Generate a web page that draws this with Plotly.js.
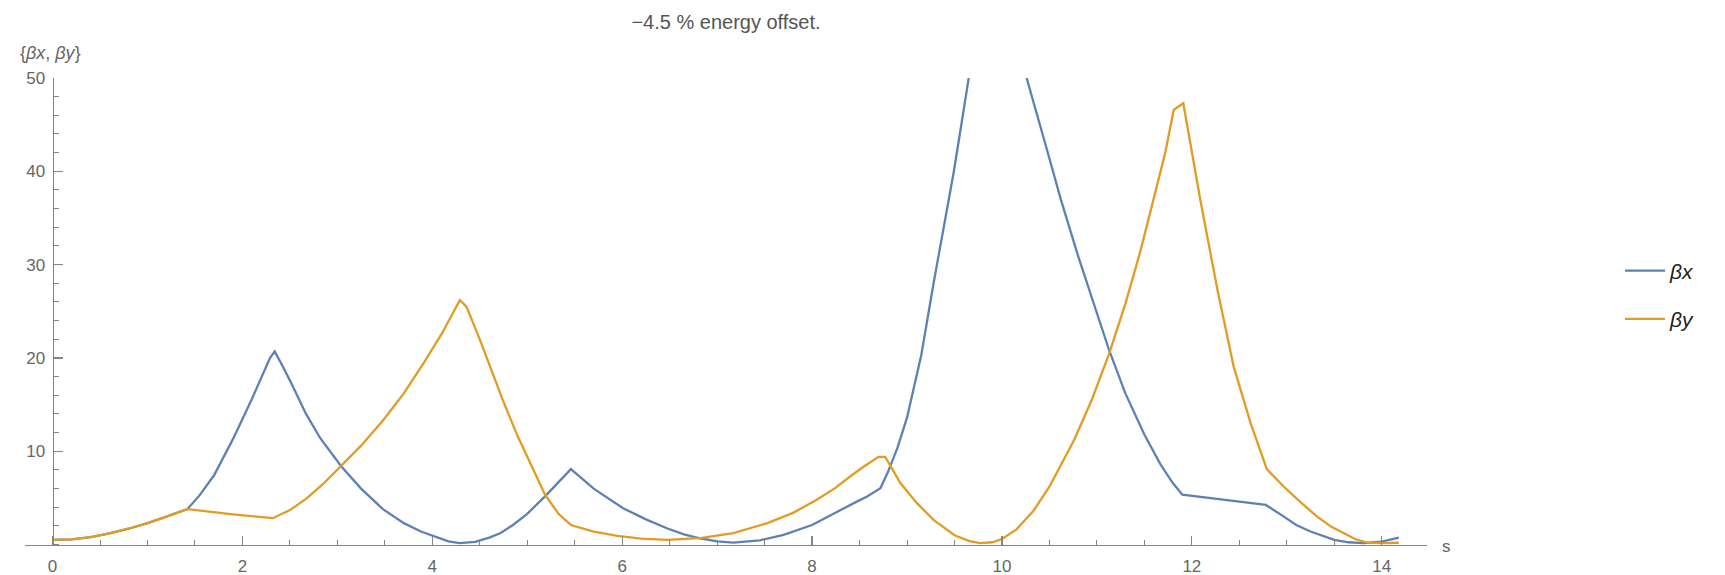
<!DOCTYPE html>
<html>
<head>
<meta charset="utf-8">
<script src="https://cdn.plot.ly/plotly-3.0.1.min.js"></script>
<style>
  html, body { margin: 0; padding: 0; background: #ffffff; }
  #chart { width: 1725px; height: 575px; }
</style>
</head>
<body>
<div id="chart"></div>
<script>
// Beta functions along the line, -4.5 % energy offset
const sBx = [0, 0.2, 0.4, 0.6, 0.8, 1.0, 1.2, 1.42, 1.55, 1.7, 1.9, 2.1, 2.29, 2.34, 2.42, 2.5,
  2.67, 2.82, 3.04, 3.25, 3.48, 3.7, 3.88, 4.05, 4.17, 4.29, 4.45, 4.6, 4.72, 4.85, 5.0, 5.19,
  5.33, 5.46, 5.7, 6.01, 6.25, 6.47, 6.65, 6.82, 7.0, 7.17, 7.45, 7.7, 8.0, 8.23, 8.45, 8.58,
  8.72, 8.8, 8.9, 9.0, 9.15, 9.28, 9.4, 9.49, 9.58, 9.65, 9.75, 9.85, 9.95, 10.05, 10.15, 10.26,
  10.45, 10.62, 10.8, 11.0, 11.13, 11.3, 11.5, 11.67, 11.8, 11.9, 12.3, 12.62, 12.78, 12.97,
  13.1, 13.25, 13.5, 13.65, 13.81, 14.0, 14.18];
const betaX = [0.5, 0.55, 0.8, 1.2, 1.7, 2.3, 3.0, 3.8, 5.3, 7.4, 11.3, 15.6, 20.0, 20.7, 19.2, 17.6,
  14.0, 11.4, 8.4, 6.0, 3.8, 2.3, 1.4, 0.75, 0.35, 0.15, 0.3, 0.75, 1.25, 2.1, 3.3, 5.2,
  6.7, 8.08, 6.0, 3.9, 2.7, 1.75, 1.1, 0.68, 0.35, 0.22, 0.45, 1.04, 2.1, 3.36, 4.5, 5.15,
  6.04, 7.8, 10.4, 13.6, 20.3, 28.0, 34.5, 39.8, 45.5, 50, 55, 59, 60.5, 59.5, 55.5, 50,
  43.2, 37, 31, 24.8, 20.8, 16.2, 11.8, 8.6, 6.6, 5.35, 4.85, 4.47, 4.25, 3.0,
  2.1, 1.4, 0.5, 0.25, 0.15, 0.32, 0.75];

const sBy = [0, 0.2, 0.4, 0.6, 0.8, 1.0, 1.2, 1.42, 1.9, 2.32, 2.5, 2.67, 2.85, 3.04, 3.25, 3.48,
  3.7, 3.9, 4.1, 4.29, 4.36, 4.5, 4.61, 4.75, 4.9, 5.05, 5.19, 5.33, 5.46, 5.7, 5.95, 6.2,
  6.47, 6.82, 7.17, 7.53, 7.8, 8.05, 8.25, 8.4, 8.55, 8.7, 8.77, 8.85, 8.93, 9.1, 9.28, 9.5,
  9.65, 9.77, 9.9, 10.0, 10.15, 10.33, 10.5, 10.76, 10.95, 11.13, 11.3, 11.46, 11.6, 11.72,
  11.81, 11.91, 12.09, 12.27, 12.44, 12.62, 12.79, 12.97, 13.15, 13.32, 13.47, 13.6, 13.72,
  13.85, 14.0, 14.18];
const betaY = [0.5, 0.55, 0.8, 1.2, 1.7, 2.3, 3.0, 3.8, 3.25, 2.83, 3.7, 4.9, 6.5, 8.4, 10.6, 13.3,
  16.2, 19.3, 22.6, 26.2, 25.5, 22.0, 19.0, 15.3, 11.6, 8.3, 5.3, 3.3, 2.1, 1.4, 0.93, 0.65,
  0.5, 0.7, 1.22, 2.3, 3.4, 4.8, 6.1, 7.3, 8.4, 9.4, 9.4, 8.0, 6.6, 4.5, 2.65, 1.0,
  0.4, 0.15, 0.25, 0.6, 1.6, 3.6, 6.2, 11.2, 15.6, 20.5, 25.8, 31.5, 37.0, 42.0,
  46.6, 47.3, 36.9, 27.3, 19.1, 13.0, 8.08, 6.2, 4.5, 3.0, 1.9, 1.22, 0.6,
  0.2, 0.15, 0.2];

const seriesNames = ['<i>βx</i>', '<i>βy</i>'];
const xTickVals = [0, 2, 4, 6, 8, 10, 12, 14];
const yTickVals = [10, 20, 30, 40, 50];

const FONT = 'Liberation Sans, Arial, Helvetica, sans-serif';
const AXIS_COLOR = '#858585';
const LABEL_COLOR = '#666666';

const xRange = [-0.29, 14.477];
const yRange = [-0.15, 50];

const traces = [
  {
    x: sBx, y: betaX, name: seriesNames[0], legendgroup: 'bx',
    type: 'scatter', mode: 'lines',
    line: { color: '#5E81B5', width: 2.3 }
  },
  {
    x: sBy, y: betaY, name: seriesNames[1], legendgroup: 'by',
    type: 'scatter', mode: 'lines',
    line: { color: '#E19C24', width: 2.3 }
  }
];

const commonAxis = {
  showline: true, linecolor: AXIS_COLOR, linewidth: 1.2,
  showgrid: false, zeroline: false,
  ticks: 'inside', ticklen: 9, tickwidth: 1.2, tickcolor: AXIS_COLOR,
  tickfont: { family: FONT, size: 17, color: LABEL_COLOR },
  anchor: 'free', fixedrange: true
};

const layout = {
  width: 1725, height: 575,
  margin: { l: 25, r: 298, t: 78, b: 29, pad: 0 },
  paper_bgcolor: '#ffffff', plot_bgcolor: '#ffffff',
  font: { family: FONT },
  title: {
    text: '\u22124.5 % energy offset.',
    x: 0.5, xref: 'paper', xanchor: 'center',
    y: 1 - 22 / 575, yref: 'container', yanchor: 'middle',
    font: { family: FONT, size: 20, color: '#555555' }
  },
  xaxis: Object.assign({}, commonAxis, {
    range: xRange,
    position: (0 - yRange[0]) / (yRange[1] - yRange[0]),
    tickmode: 'array', tickvals: xTickVals, ticktext: xTickVals.map(String),
    ticklabelstandoff: 6,
    minor: { ticks: 'inside', tickmode: 'linear', tick0: 0, dtick: 0.5,
             ticklen: 5, tickwidth: 1, tickcolor: AXIS_COLOR, showgrid: false }
  }),
  yaxis: Object.assign({}, commonAxis, {
    range: yRange,
    position: (0 - xRange[0]) / (xRange[1] - xRange[0]),
    tickmode: 'array', tickvals: yTickVals, ticktext: yTickVals.map(String),
    ticklabelstandoff: 4,
    minor: { ticks: 'inside', tickmode: 'linear', tick0: 0, dtick: 2,
             ticklen: 5, tickwidth: 1, tickcolor: AXIS_COLOR, showgrid: false }
  }),
  showlegend: true,
  legend: {
    x: (1620 - 25) / 1402, xanchor: 'left',
    y: (546.1 - 250.5) / 468, yanchor: 'top',
    font: { family: FONT, size: 21, color: '#222222' },
    itemwidth: 40, tracegroupgap: 18, traceorder: 'grouped',
    bgcolor: 'rgba(0,0,0,0)', borderwidth: 0
  },
  annotations: [
    {
      text: '{<i>βx</i>, <i>βy</i>}', xref: 'paper', yref: 'paper',
      x: (18 - 25) / 1402, xanchor: 'left',
      y: (546.1 - 53) / 468, yanchor: 'middle',
      showarrow: false, font: { family: FONT, size: 18, color: LABEL_COLOR }
    },
    {
      text: 's', xref: 'paper', yref: 'paper',
      x: (1440 - 25) / 1402, xanchor: 'left',
      y: (546.1 - 547) / 468, yanchor: 'middle',
      showarrow: false, font: { family: FONT, size: 17, color: LABEL_COLOR }
    }
  ]
};

Plotly.newPlot('chart', traces, layout, { staticPlot: true, displayModeBar: false });
</script>
</body>
</html>
